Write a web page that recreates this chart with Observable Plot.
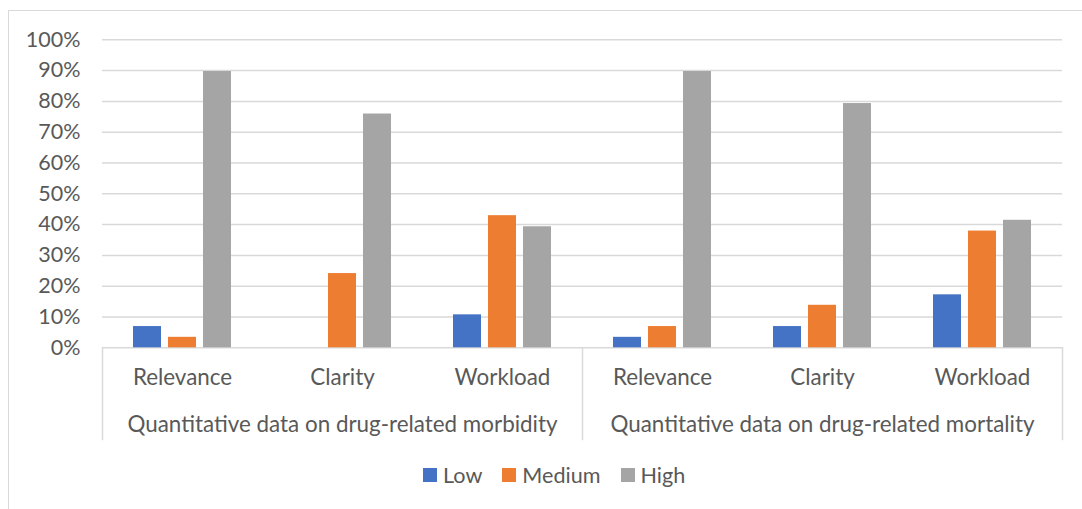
<!DOCTYPE html>
<html><head><meta charset="utf-8">
<script src="https://cdn.jsdelivr.net/npm/d3@7"></script>
<script src="https://cdn.jsdelivr.net/npm/@observablehq/plot@0.6"></script>
<style>
body{margin:0;background:#fff;width:1082px;height:509px;overflow:hidden;position:relative;font-family:Lato,sans-serif;}
#border{position:absolute;left:8px;top:10px;width:1100px;height:530px;border:1.5px solid #d9d9d9;box-sizing:border-box;}
#chart{position:absolute;left:0;top:0;}
#legend{position:absolute;top:462px;left:423px;display:flex;align-items:center;font-size:21.6px;color:#595959;}
.item{display:flex;align-items:center;margin-right:20px;}
.sw{width:14px;height:14px;margin-right:6px;}
</style></head><body>
<div id="border"></div><div id="chart"></div><div id="legend"></div>
<script>
const groups = ["Quantitative data on drug-related morbidity", "Quantitative data on drug-related mortality"];
const categories = ["Relevance", "Clarity", "Workload"];
const series = ["Low", "Medium", "High"];
const colors = ["#4472C4", "#ED7D31", "#A5A5A5"];
// values in %, per group, per series, per category
const morbidityLow = [6.9, 0, 10.7];
const morbidityMedium = [3.4, 24.1, 42.9];
const morbidityHigh = [89.7, 75.9, 39.3];
const mortalityLow = [3.4, 6.9, 17.2];
const mortalityMedium = [6.9, 13.8, 37.9];
const mortalityHigh = [89.7, 79.3, 41.4];
const yTicks = [0, 10, 20, 30, 40, 50, 60, 70, 80, 90, 100];

const valueTable = [
  [morbidityLow, morbidityMedium, morbidityHigh],
  [mortalityLow, mortalityMedium, mortalityHigh]
];
const keyOf = (g, c) => g + "|" + c;
const keys = groups.flatMap(g => categories.map(c => keyOf(g, c)));
const rows = [];
groups.forEach((g, gi) => categories.forEach((c, ci) => series.forEach((s, si) => {
  rows.push({key: keyOf(g, c), category: c, series: s, value: valueTable[gi][si][ci]});
})));
const catLabels = groups.flatMap(g => categories.map(c => ({key: keyOf(g, c), label: c})));
const midCat = categories[Math.floor(categories.length / 2)];
const groupLabels = groups.map(g => ({key: keyOf(g, midCat), label: g}));
const leftSeps = groups.map(g => keyOf(g, categories[0]));
const rightSep = keyOf(groups[groups.length - 1], categories[categories.length - 1]);
const sepStyle = {stroke: "#d9d9d9", strokeWidth: 1.5, insetTop: 308};

const chart = Plot.plot({
  width: 1082,
  height: 450,
  marginLeft: 101,
  marginRight: 20,
  marginTop: 39.3,
  marginBottom: 11,
  style: {fontFamily: "Lato, sans-serif", fontSize: "21.5px", color: "#595959", background: "transparent"},
  fx: {domain: keys, padding: 0, axis: null},
  x: {domain: series, paddingInner: 0.213, paddingOuter: 0.865, axis: null},
  y: {domain: [0, 100], insetBottom: 91.7},
  color: {domain: series, range: colors},
  marks: [
    Plot.gridY(yTicks, {stroke: "#d9d9d9", strokeOpacity: 1, strokeWidth: 1.5}),
    Plot.axisY({ticks: yTicks, tickFormat: d => d + "%", tickSize: 0, tickPadding: 22, label: null, fontSize: 21.5, fill: "#595959"}),
    Plot.barY(rows, {fx: "key", x: "series", y: "value", fill: "series"}),
    ...leftSeps.map(k => Plot.frame({anchor: "left", fx: () => k, ...sepStyle})),
    Plot.frame({anchor: "right", fx: () => rightSep, ...sepStyle}),
    Plot.text(catLabels, {fx: "key", text: "label", frameAnchor: "bottom", dy: -55, fontSize: 22.4, fill: "#595959"}),
    Plot.text(groupLabels, {fx: "key", text: "label", frameAnchor: "bottom", dy: -8, fontSize: 22.4, fill: "#595959"})
  ]
});
document.getElementById("chart").appendChild(chart);

const legend = d3.select("#legend");
series.forEach((s, i) => {
  const item = legend.append("div").attr("class", "item");
  item.append("div").attr("class", "sw").style("background", colors[i]);
  item.append("span").text(s);
});
</script>
</body></html>
